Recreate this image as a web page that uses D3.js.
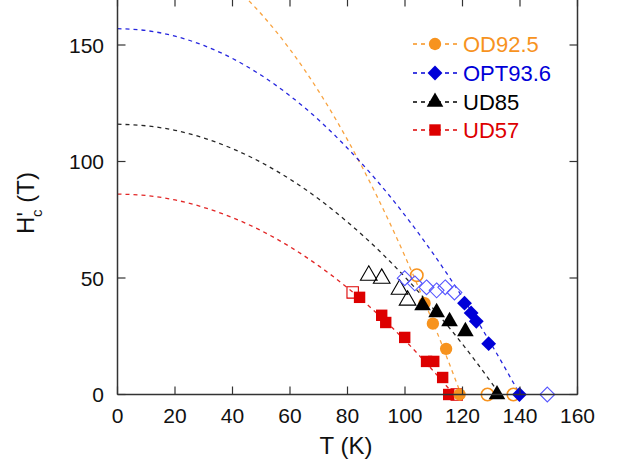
<!DOCTYPE html>
<html><head><meta charset="utf-8">
<script src="https://cdn.jsdelivr.net/npm/d3@7"></script>
<style>body{margin:0;background:#fff}svg{display:block}text{font-family:"Liberation Sans",Arial,sans-serif}</style>
</head><body><svg id="c" width="623" height="465"></svg>
<script>
// Data (T in K, H'c in T)
const seriesNames = ["OD92.5", "OPT93.6", "UD85", "UD57"];
const seriesColors = ["#F7931E", "#0000D8", "#000000", "#DD0000"];
const xTicks = [0, 20, 40, 60, 80, 100, 120, 140, 160];
const yTicks = [0, 50, 100, 150];

// dashed fit curves
const curveOD = [[0,198],[10,196.6],[20,192.5],[30,185.5],[40,175.8],[50,163.3],[60,148.1],[70,130.1],[80,109.3],[90,85.7],[100,59.3],[110,30.2],[119.5,0]];
const curveOPT = [[0,157],[10,156.2],[20,153.8],[30,149.8],[40,144.2],[50,137],[60,128.2],[70,117.8],[80,105.7],[90,92.1],[100,76.9],[110,60.1],[120,41.7],[130,21.6],[140,0]];
const curveUD85 = [[0,116],[10,115.3],[20,113.4],[30,110.1],[40,105.5],[50,99.6],[60,92.4],[70,83.9],[80,74],[90,62.9],[100,50.4],[110,36.6],[120,21.6],[130,5.2],[133,0]];
const curveUD57 = [[0,86],[10,85.4],[20,83.5],[30,80.3],[40,75.9],[50,70.3],[60,63.4],[70,55.2],[80,45.8],[90,35.1],[100,23.2],[110,9.9],[117,0]];

// measured points: filled / open
const odFilled = [[106.8,39.2],[109.7,30.4],[114.3,19.6],[119,0]];
const odOpen = [[104.1,51.2],[128.7,0],[137.7,0]];
const optFilled = [[120.7,39.2],[123,35],[124.8,31.4],[129.1,21.8],[139.8,0]];
const optOpen = [[99.9,49.9],[103.4,47.7],[107.5,46],[111,44.7],[114,46],[117.2,43.8],[149.5,0]];
const ud85Filled = [[106.1,38.2],[111,35.2],[115.5,31.4],[121,27.1],[132,0]];
const ud85Open = [[87.4,51.1],[91.9,49.8],[98.1,45.1],[100.9,40.4]];
const ud57Filled = [[84.2,41.7],[91.9,34],[93.3,30.9],[99.9,24.5],[107.5,14.2],[110,14.2],[113.1,7.3],[115.2,0]];
const ud57Open = [[81.8,43.8],[118,0]];

const svg = d3.select("#c");
const L = 117.5, R = 577.5, B = 394.5;
const x = d3.scaleLinear().domain([0,160]).range([L,R]);
const y = d3.scaleLinear().domain([0,150]).range([B,45]);
const T = y(170);

svg.append("clipPath").attr("id","clip").append("rect").attr("x",L).attr("y",T).attr("width",R-L).attr("height",B-T);

// square diamond (rotated square)
const diamondSq = {draw(ctx, size){ const r = Math.sqrt(size/2); ctx.moveTo(0,-r); ctx.lineTo(r,0); ctx.lineTo(0,r); ctx.lineTo(-r,0); ctx.closePath(); }};
const symbols = [d3.symbolCircle, diamondSq, d3.symbolTriangle, d3.symbolSquare];
const sizes = [120, 110, 120, 130];

const line = d3.line().x(d=>x(d[0])).y(d=>y(d[1])).curve(d3.curveMonotoneX);
const curves = [curveOD, curveOPT, curveUD85, curveUD57];
const g = svg.append("g").attr("clip-path","url(#clip)");
curves.forEach((c,i)=>{
  g.append("path").attr("d",line(c)).attr("fill","none").attr("stroke",seriesColors[i])
   .attr("stroke-width",1.3).attr("stroke-dasharray","4,4").attr("opacity",0.85);
});

const openColors = ["#F7931E","#5555FF","#000000","#DD0000"];
const filled = [odFilled, optFilled, ud85Filled, ud57Filled];
const opens = [odOpen, optOpen, ud85Open, ud57Open];
const pg = svg.append("g");
[3,2,0,1].forEach(i=>{
  pg.selectAll(null).data(opens[i]).enter().append("path")
    .attr("d", d3.symbol().type(symbols[i]).size(sizes[i]))
    .attr("transform", d=>`translate(${x(d[0])},${y(d[1])})`)
    .attr("fill","none").attr("stroke",openColors[i]).attr("stroke-width",i===0?1.6:1.1);
});
[3,0,2,1].forEach(i=>{
  pg.selectAll(null).data(filled[i]).enter().append("path")
    .attr("d", d3.symbol().type(symbols[i]).size(sizes[i]))
    .attr("transform", d=>`translate(${x(d[0])},${y(d[1])})`)
    .attr("fill",seriesColors[i]);
});

// frame
const fc = "#333";
[[L,B,R,B],[L,T,L,B],[R,T,R,B],[L,T,R,T]].forEach(s=>{
  svg.append("line").attr("x1",s[0]).attr("y1",s[1]).attr("x2",s[2]).attr("y2",s[3]).attr("stroke",fc).attr("stroke-width",1.5);
});

const tl = 8;
xTicks.forEach(t=>{
  svg.append("line").attr("x1",x(t)).attr("x2",x(t)).attr("y1",B).attr("y2",B-tl).attr("stroke",fc).attr("stroke-width",1.2);
  svg.append("line").attr("x1",x(t)).attr("x2",x(t)).attr("y1",T).attr("y2",T+tl).attr("stroke",fc).attr("stroke-width",1.2);
  svg.append("text").attr("x",x(t)).attr("y",423).attr("text-anchor","middle").attr("font-size",21).attr("fill","#111").text(t);
});
yTicks.forEach(t=>{
  svg.append("line").attr("x1",L).attr("x2",L+tl).attr("y1",y(t)).attr("y2",y(t)).attr("stroke",fc).attr("stroke-width",1.2);
  svg.append("line").attr("x1",R).attr("x2",R-tl).attr("y1",y(t)).attr("y2",y(t)).attr("stroke",fc).attr("stroke-width",1.2);
  svg.append("text").attr("x",104).attr("y",y(t)+7.5).attr("text-anchor","end").attr("font-size",21).attr("fill","#111").text(t);
});

svg.append("text").attr("x",346).attr("y",454).attr("text-anchor","middle").attr("font-size",24).attr("fill","#111").text("T (K)");
const yl = svg.append("text").attr("transform","translate(34,203) rotate(-90)").attr("text-anchor","middle").attr("font-size",24).attr("fill","#111");
yl.append("tspan").text("H");
yl.append("tspan").text("'");
yl.append("tspan").attr("dx",-5).attr("dy",8).attr("font-size",15).text("c");
yl.append("tspan").attr("dy",-8).text(" (T)");

// legend
const legY = [44, 73, 102, 130];
seriesNames.forEach((n,i)=>{
  const lg = svg.append("g");
  lg.append("line").attr("x1",413).attr("x2",458).attr("y1",legY[i]).attr("y2",legY[i]).attr("stroke",seriesColors[i]).attr("stroke-width",1.3).attr("stroke-dasharray","4,4");
  lg.append("path").attr("d",d3.symbol().type(symbols[i]).size(sizes[i])).attr("transform",`translate(435,${legY[i]})`).attr("fill",seriesColors[i]);
  lg.append("text").attr("x",463).attr("y",legY[i]+8).attr("font-size",22).attr("fill",seriesColors[i]).text(n);
});
</script></body></html>
